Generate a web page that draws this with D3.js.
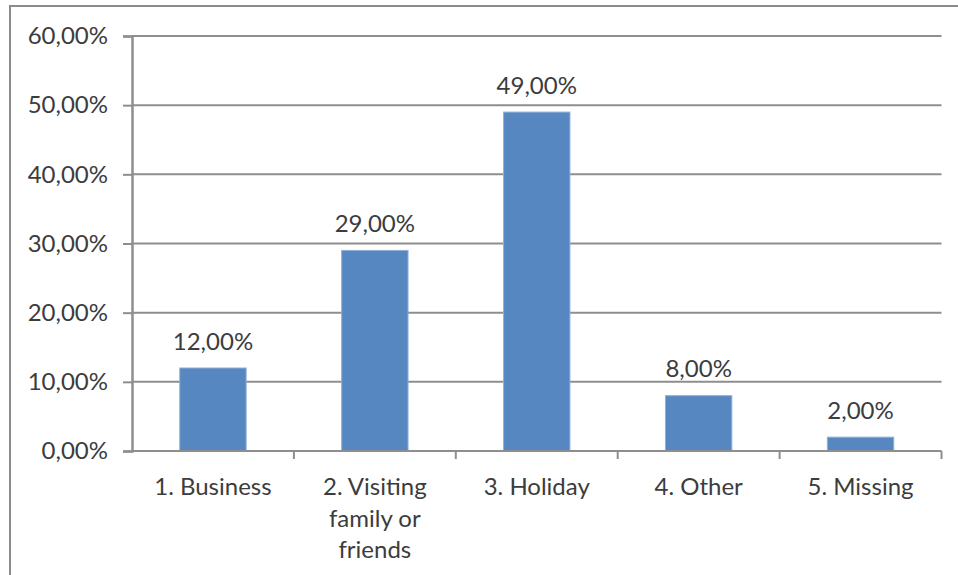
<!DOCTYPE html>
<html>
<head>
<meta charset="utf-8">
<script src="https://cdn.jsdelivr.net/npm/d3@7"></script>
<style>
  html, body { margin: 0; padding: 0; background: #fff; }
  svg { display: block; font-family: Lato, "Open Sans", sans-serif; }
</style>
</head>
<body>
<svg id="chart" width="958" height="575"></svg>
<script>
// Purpose of trip — share of respondents
const categories = ["1. Business", "2. Visiting family or friends", "3. Holiday", "4. Other", "5. Missing"];
const categoryLines = [["1. Business"], ["2. Visiting", "family or", "friends"], ["3. Holiday"], ["4. Other"], ["5. Missing"]];
const shares = [0.12, 0.29, 0.49, 0.08, 0.02];
const yTicks = [0, 0.1, 0.2, 0.3, 0.4, 0.5, 0.6];

const W = 958, H = 575;
const plot = { left: 132, right: 941.5, top: 36, bottom: 451 };
const textColor = "#3c3c3c";
const gridColor = "#8e8e8e";
const barColor = "#5787c0";
const fontSize = 24;

const svg = d3.select("#chart");

// Chart frame (only the top and left edges fall inside the view)
svg.append("path")
  .attr("d", `M10,${H} L10,6 L${W},6`)
  .attr("fill", "none")
  .attr("stroke", "#8c8c8c")
  .attr("stroke-width", 2);

const x = d3.scaleBand()
  .domain(categories)
  .range([plot.left, plot.right])
  .paddingInner(0.59)
  .paddingOuter(0.295);

const y = d3.scaleLinear()
  .domain([0, 0.6])
  .range([plot.bottom, plot.top]);

const pct = v => d3.format(".2f")(v * 100).replace(".", ",") + "%";

// Horizontal gridlines
svg.append("g")
  .selectAll("line")
  .data(yTicks.filter(t => t > 0))
  .join("line")
  .attr("x1", plot.left)
  .attr("x2", plot.right)
  .attr("y1", d => y(d))
  .attr("y2", d => y(d))
  .attr("stroke", gridColor)
  .attr("stroke-width", 2);

// Bars
svg.append("g")
  .selectAll("rect")
  .data(shares)
  .join("rect")
  .attr("x", (d, i) => x(categories[i]))
  .attr("width", x.bandwidth())
  .attr("y", d => y(d))
  .attr("height", d => y(0) - y(d))
  .attr("fill", barColor)
  .attr("stroke", "#8fb0d8")
  .attr("stroke-width", 1);

// Value labels
svg.append("g")
  .selectAll("text")
  .data(shares)
  .join("text")
  .attr("x", (d, i) => x(categories[i]) + x.bandwidth() / 2)
  .attr("y", d => y(d) - 28)
  .attr("text-anchor", "middle")
  .attr("dominant-baseline", "central")
  .attr("fill", textColor)
  .attr("font-size", fontSize)
  .text(d => pct(d));

// Y axis
const yAxis = svg.append("g")
  .attr("transform", `translate(${plot.left},0)`)
  .call(d3.axisLeft(y).tickValues(yTicks).tickSize(9).tickPadding(15).tickFormat(pct));
yAxis.select(".domain").attr("stroke", gridColor).attr("stroke-width", 2.5);
yAxis.selectAll(".tick line").attr("stroke", gridColor).attr("stroke-width", 2);
yAxis.selectAll(".tick text")
  .attr("fill", textColor)
  .attr("font-size", fontSize)
  .attr("font-family", "Lato, 'Open Sans', sans-serif");

// X axis: category separators below the baseline
const xEdges = d3.range(categories.length + 1).map(i => plot.left + i * x.step());
svg.append("line")
  .attr("x1", plot.left).attr("x2", plot.right)
  .attr("y1", plot.bottom).attr("y2", plot.bottom)
  .attr("stroke", gridColor).attr("stroke-width", 2);
svg.append("g")
  .selectAll("line")
  .data(xEdges.slice(1))
  .join("line")
  .attr("x1", d => d).attr("x2", d => d)
  .attr("y1", plot.bottom).attr("y2", plot.bottom + 8)
  .attr("stroke", gridColor).attr("stroke-width", 2);

// Category labels, wrapped over several lines
const labels = svg.append("g")
  .selectAll("text")
  .data(categories)
  .join("text")
  .attr("x", d => x(d) + x.bandwidth() / 2)
  .attr("y", plot.bottom + 34)
  .attr("text-anchor", "middle")
  .attr("dominant-baseline", "central")
  .attr("fill", textColor)
  .attr("font-size", fontSize);
labels.each(function(d, i) {
  d3.select(this).selectAll("tspan")
    .data(categoryLines[i])
    .join("tspan")
    .attr("x", x(d) + x.bandwidth() / 2)
    .attr("dy", (t, j) => j === 0 ? 0 : 31.5)
    .text(t => t);
});
</script>
</body>
</html>
